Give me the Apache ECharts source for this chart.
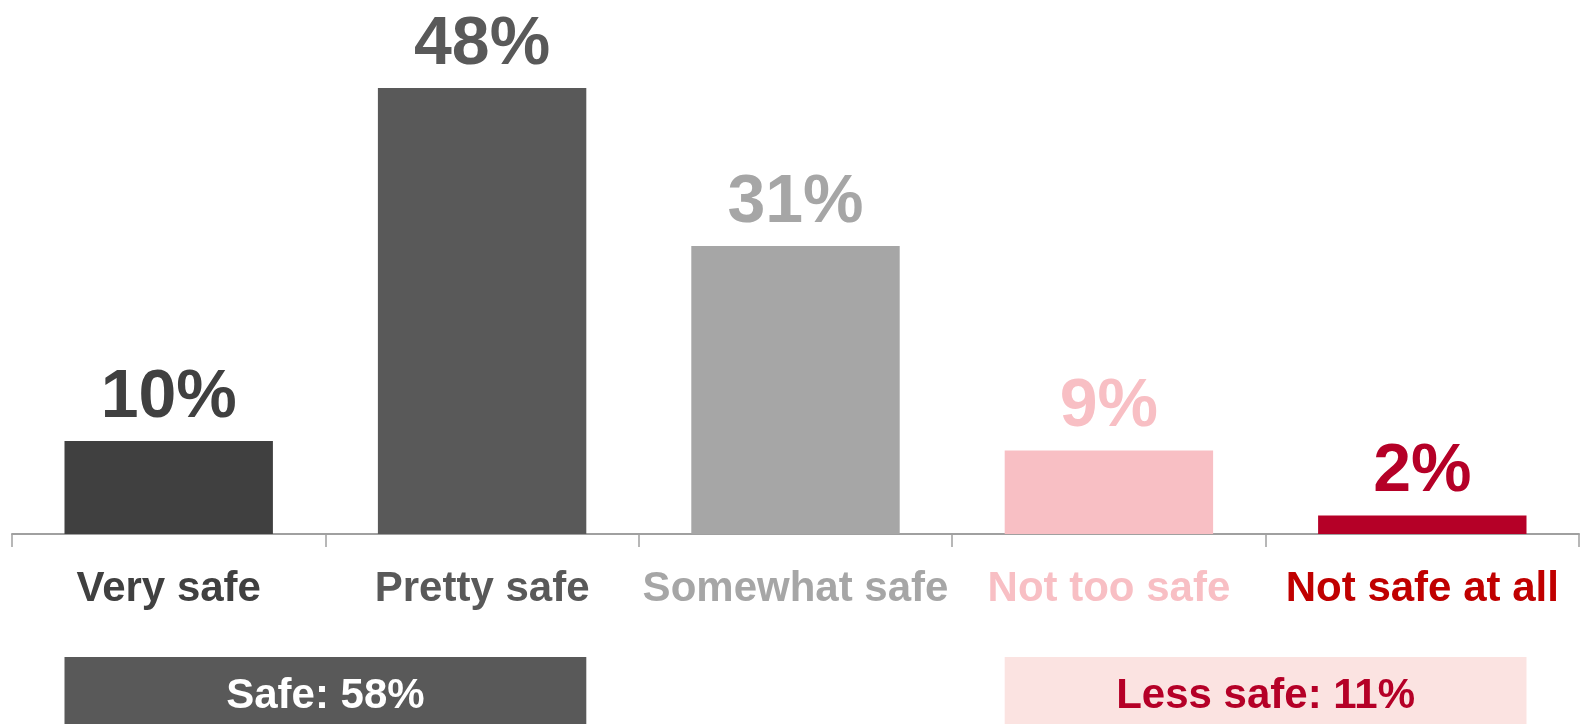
<!DOCTYPE html>
<html>
<head>
<meta charset="utf-8">
<title>How safe do you feel</title>
<script src="https://cdn.jsdelivr.net/npm/echarts@6/dist/echarts.min.js"></script>
<style>
  html, body { margin: 0; padding: 0; background: #ffffff; }
  #chart { width: 1580px; height: 724px; }
</style>
</head>
<body>
<div id="chart"></div>
<script>
// Response categories and shares (%)
const categories = ['Very safe', 'Pretty safe', 'Somewhat safe', 'Not too safe', 'Not safe at all'];
const shares = [10, 48, 31, 9, 2];

// Colour per answer: bar fill, value label, category label
const barColors = ['#404040', '#595959', '#a6a6a6', '#f8bfc4', '#b50027'];
const valueColors = ['#404040', '#595959', '#a6a6a6', '#f8bfc4', '#b50027'];
const categoryColors = ['#404040', '#595959', '#a6a6a6', '#f8bfc4', '#c00000'];

// Summary groups spanning a range of categories
const groupNames = ['Safe', 'Less safe'];
const groupTotals = [58, 11];
const groupFirst = [0, 3];
const groupLast = [1, 4];
const groupFill = ['#595959', '#fbe3e1'];
const groupText = ['#ffffff', '#b50027'];

const FONT = '"Liberation Sans", Arial, sans-serif';
const BAR_RATIO = 0.665;

const chart = echarts.init(document.getElementById('chart'), null, { renderer: 'canvas' });

const barData = shares.map((v, i) => ({
  value: v,
  itemStyle: { color: barColors[i] },
  label: { color: valueColors[i] }
}));

const groupData = groupNames.map((n, i) => [groupFirst[i], groupLast[i], i]);

chart.setOption({
  animation: false,
  grid: { left: 12, right: 1, top: 69.5, bottom: 190, containLabel: false },
  xAxis: {
    type: 'category',
    data: categories,
    boundaryGap: true,
    axisLine: { show: true, lineStyle: { color: '#a0a0a0', width: 2 } },
    axisTick: { show: true, interval: 0, alignWithLabel: false, length: 13, lineStyle: { color: '#a0a0a0', width: 1.5 } },
    axisLabel: {
      margin: 34,
      fontSize: 42,
      fontWeight: 'bold',
      fontFamily: FONT,
      interval: 0,
      color: (value, index) => categoryColors[index]
    }
  },
  yAxis: {
    type: 'value',
    min: 0,
    max: 50,
    show: false,
    splitLine: { show: false }
  },
  series: [
    {
      type: 'bar',
      data: barData,
      barWidth: (BAR_RATIO * 100) + '%',
      label: {
        show: true,
        position: 'top',
        distance: 9,
        fontSize: 68,
        fontWeight: 'bold',
        fontFamily: FONT,
        formatter: p => p.value + '%'
      }
    },
    {
      // Summary boxes drawn below the category labels
      type: 'custom',
      clip: false,
      silent: true,
      data: groupData,
      renderItem: function (params, api) {
        const first = api.value(0);
        const last = api.value(1);
        const gi = api.value(2);
        const band = api.size([1, 0])[0];
        const half = band * BAR_RATIO / 2;
        const p0 = api.coord([first, 0]);
        const p1 = api.coord([last, 0]);
        const x0 = p0[0] - half;
        const x1 = p1[0] + half;
        const top = p0[1] + 123;
        const h = 724 - top;
        return {
          type: 'group',
          children: [
            {
              type: 'rect',
              shape: { x: x0, y: top, width: x1 - x0, height: h },
              style: { fill: groupFill[gi] }
            },
            {
              type: 'text',
              style: {
                x: (x0 + x1) / 2,
                y: top + h / 2 + 6,
                text: groupNames[gi] + ': ' + groupTotals[gi] + '%',
                fill: groupText[gi],
                font: 'bold 42px ' + FONT,
                align: 'center',
                verticalAlign: 'middle'
              }
            }
          ]
        };
      }
    }
  ]
});
</script>
</body>
</html>
